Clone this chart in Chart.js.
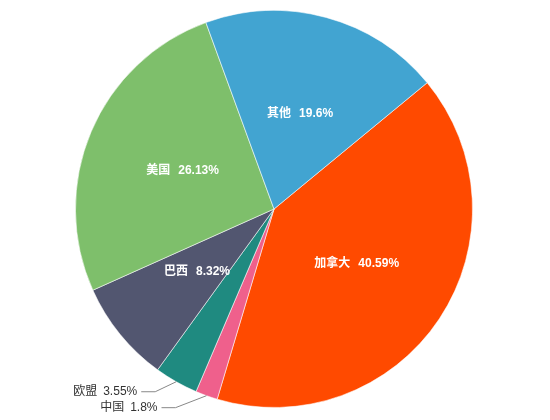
<!DOCTYPE html>
<html>
<head>
<meta charset="utf-8">
<script src="https://cdn.jsdelivr.net/npm/chart.js@4"></script>
<style>
  html, body { margin: 0; padding: 0; background: #fff; }
  #wrap { width: 550px; height: 420px; }
</style>
</head>
<body>
<div id="wrap"><canvas id="grafico" width="550" height="420"></canvas></div>
<script>
// dados
var paises = ['加拿大', '中国', '欧盟', '巴西', '美国', '其他'];
var percentuais = [40.59, 1.8, 3.55, 8.32, 26.13, 19.6];
var cores = ['#FF4A00', '#EF608C', '#1F8A80', '#525670', '#7EBF6B', '#42A4D1'];

var fonte = '"Liberation Sans", "Noto Sans CJK SC", sans-serif';

// rótulos: dentro das fatias grandes, fora (com linha) nas pequenas
const pluginRotulos = {
    id: 'rotulos',
    afterDatasetsDraw(chart) {
        const ctx = chart.ctx;
        const arcos = chart.getDatasetMeta(0).data;
        ctx.save();
        arcos.forEach(function(arco, i) {
            const meio = (arco.startAngle + arco.endAngle) / 2;
            const R = arco.outerRadius;
            const nome = paises[i];
            const valor = percentuais[i] + '%';
            if (percentuais[i] >= 5) {
                const x = arco.x + Math.cos(meio) * R * 0.5;
                const y = arco.y + Math.sin(meio) * R * 0.5;
                ctx.font = 'bold 12px ' + fonte;
                ctx.fillStyle = '#fff';
                ctx.textBaseline = 'middle';
                const gap = 8;
                const w1 = ctx.measureText(nome).width;
                const w2 = ctx.measureText(valor).width;
                let x0 = x - (w1 + gap + w2) / 2;
                ctx.textAlign = 'left';
                ctx.fillText(nome, x0, y);
                ctx.fillText(valor, x0 + w1 + gap, y);
            } else {
                const ex = arco.x + Math.cos(meio) * R;
                const ey = arco.y + Math.sin(meio) * R;
                // cotovelo da linha guia
                const cx = ex - (percentuais[i] < 2 ? 31 : 21);
                const cy = ey + (percentuais[i] < 2 ? 12 : 10);
                const fx = cx - 14;
                ctx.strokeStyle = '#888';
                ctx.lineWidth = 1;
                ctx.beginPath();
                ctx.moveTo(ex, ey);
                ctx.lineTo(cx, cy);
                ctx.lineTo(fx, cy);
                ctx.stroke();
                ctx.font = '12px ' + fonte;
                ctx.fillStyle = '#333';
                ctx.textBaseline = 'middle';
                ctx.textAlign = 'right';
                const w2 = ctx.measureText(valor).width;
                ctx.fillText(valor, fx - 4, cy);
                ctx.fillText(nome, fx - 4 - w2 - 6, cy);
            }
        });
        ctx.restore();
    }
};

new Chart(document.getElementById('grafico'), {
    type: 'pie',
    data: {
        labels: paises,
        datasets: [{
            data: percentuais,
            backgroundColor: cores,
            borderColor: 'rgba(255,255,255,0.55)',
            borderWidth: 1
        }]
    },
    options: {
        responsive: false,
        animation: false,
        rotation: 50.5,
        layout: { padding: { top: 10, bottom: 12, left: 0, right: 2 } },
        plugins: {
            legend: { display: false },
            tooltip: { enabled: false }
        }
    },
    plugins: [pluginRotulos]
});
</script>
</body>
</html>
